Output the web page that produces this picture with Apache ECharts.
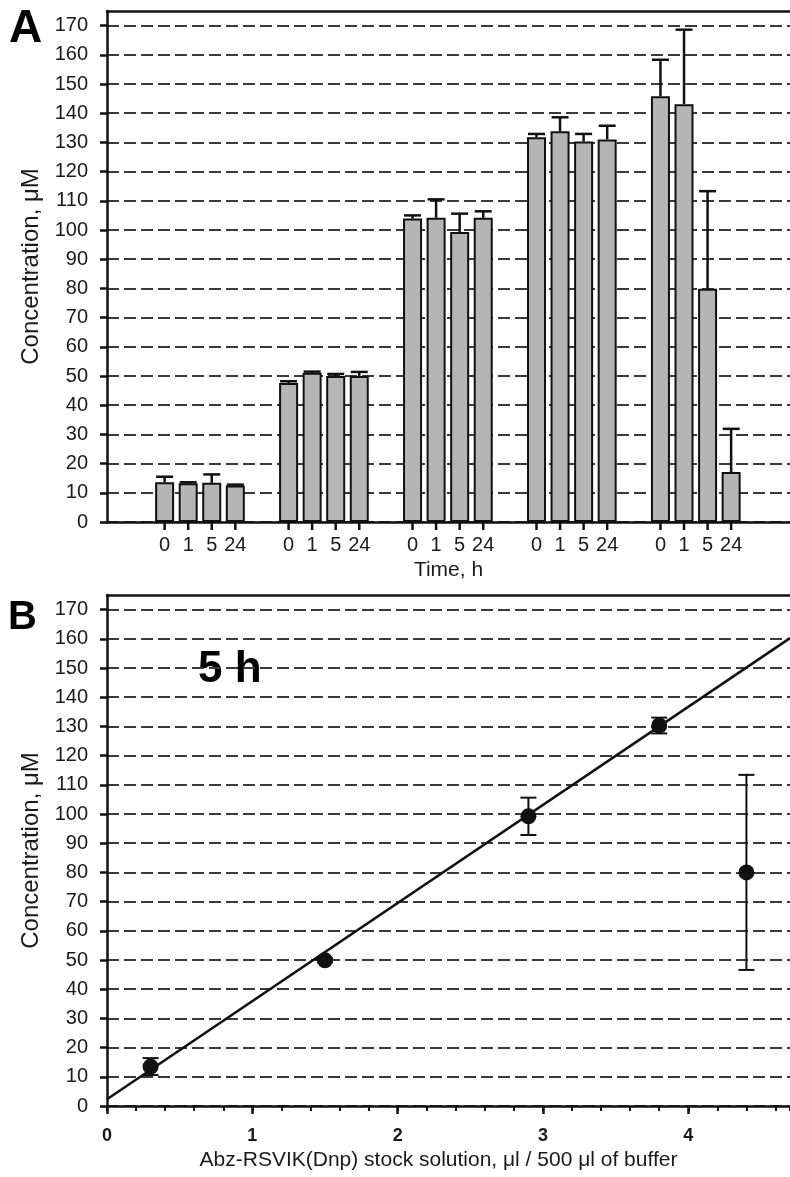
<!DOCTYPE html>
<html>
<head>
<meta charset="utf-8">
<script src="https://cdn.jsdelivr.net/npm/echarts@6/dist/echarts.min.js"></script>
<style>
html, body { margin: 0; padding: 0; background: #fff; }
#chart { width: 790px; height: 1177px; }
</style>
</head>
<body>
<div id="chart"></div>
<script>
// --- panel A: concentration after 0/1/5/24 h, five stock volumes ---
const groups = [1, 2, 3, 4, 5]
const times = ['0', '1', '5', '24']
const mean0h = [13.6, 47.6, 103.9, 131.8, 145.8]
const mean1h = [13.3, 51.1, 104.2, 133.8, 143.1]
const mean5h = [13.4, 50.0, 99.3, 130.3, 79.9]
const mean24h = [12.5, 50.0, 104.2, 131.0, 17.1]
const err0h = [1.9, 0.6, 1.1, 1.1, 12.5]
const err1h = [0.3, 0.4, 6.3, 4.8, 25.5]
const err5h = [2.9, 0.7, 6.3, 2.6, 33.4]
const err24h = [0.3, 1.4, 2.2, 4.7, 14.8]

// --- panel B: 5 h values against stock volume ---
const stockVol = [0.3, 1.5, 2.9, 3.8, 4.4]
const conc5h = [13.5, 49.9, 99.2, 130.3, 80.0]
const conc5hErr = [2.9, 0.7, 6.4, 2.7, 33.4]
const fitIntercept = 2.3
const fitSlope = 33.6

const yTicks = [0, 10, 20, 30, 40, 50, 60, 70, 80, 90, 100, 110, 120, 130, 140, 150, 160, 170]
const xTicksB = [0, 1, 2, 3, 4]

const font = 'Liberation Sans, Arial, sans-serif'
const ink = '#111'
const barW = 19
const barGap = 0.24
const slot = barW * (1 + barGap)  // px between bar centres in a cluster
const dash = { color: '#3a3a3a', width: 1.8, type: [12, 5] }

const means = [mean0h, mean1h, mean5h, mean24h]
const errs = [err0h, err1h, err5h, err24h]

function yAxisFor(gridIndex) {
  return {
    type: 'value', gridIndex: gridIndex, min: 0, max: 175, interval: 10,
    name: 'Concentration, μM', nameLocation: 'middle', nameGap: 62,
    nameTextStyle: { fontFamily: font, fontSize: 24, color: '#1a1a1a' },
    axisLine: { show: true, onZero: false, lineStyle: { color: ink, width: 2.5 } },
    axisTick: { show: true, length: 7, customValues: yTicks, lineStyle: { color: ink, width: 2.5 } },
    axisLabel: {
      margin: 19, fontFamily: font, fontSize: 20, color: '#1a1a1a', customValues: yTicks,
      formatter: v => (v % 10 === 0 ? String(v) : '')
    },
    splitLine: { show: true, lineStyle: dash }
  }
}

function frameTop(gridIndex, min, max) {
  return {
    type: 'value', gridIndex: gridIndex, position: 'top', min: min, max: max,
    axisLine: { show: true, onZero: false, lineStyle: { color: ink, width: 2.5 } },
    axisTick: { show: false }, axisLabel: { show: false }, splitLine: { show: false }
  }
}

// error bar (upper only), tick and time label for each bar of panel A
function renderBarErr(params, api) {
  const g = api.value(0), k = api.value(1), m = api.value(2), e = api.value(3)
  const base = api.coord([g, 0])
  const x = base[0] + (k - 1.5) * slot
  const yTop = api.coord([g, m])[1]
  const yErr = api.coord([g, m + e])[1]
  const ls = { stroke: ink, lineWidth: 2.5 }
  return {
    type: 'group',
    children: [
      { type: 'line', shape: { x1: x, y1: yTop, x2: x, y2: yErr }, style: ls },
      { type: 'line', shape: { x1: x - 8.5, y1: yErr, x2: x + 8.5, y2: yErr }, style: ls },
      { type: 'line', shape: { x1: x, y1: base[1], x2: x, y2: base[1] + 8 }, style: ls },
      {
        type: 'text',
        style: { text: times[k], x: x, y: base[1] + 13, align: 'center', verticalAlign: 'top',
          font: '20px ' + font, fill: '#1a1a1a' }
      }
    ]
  }
}

function renderErrB(params, api) {
  const x = api.value(0), y = api.value(1), e = api.value(2)
  const hi = api.coord([x, y + e])
  const lo = api.coord([x, y - e])
  const ls = { stroke: ink, lineWidth: 2 }
  return {
    type: 'group',
    children: [
      { type: 'line', shape: { x1: hi[0], y1: hi[1], x2: lo[0], y2: lo[1] }, style: ls },
      { type: 'line', shape: { x1: hi[0] - 8, y1: hi[1], x2: hi[0] + 8, y2: hi[1] }, style: ls },
      { type: 'line', shape: { x1: lo[0] - 8, y1: lo[1], x2: lo[0] + 8, y2: lo[1] }, style: ls }
    ]
  }
}

const barSeries = times.map((t, k) => ({
  name: t, type: 'bar', xAxisIndex: 0, yAxisIndex: 0,
  barWidth: barW, barGap: (barGap * 100) + '%',
  itemStyle: { color: '#b5b5b5', borderColor: ink, borderWidth: 2 },
  data: groups.map((g, i) => [g, means[k][i]])
}))

const errRowsA = []
times.forEach((t, k) => {
  groups.forEach((g, i) => errRowsA.push([g, k, means[k][i], errs[k][i]]))
})

const xMaxB = 4.7
const fitLine = [[0, fitIntercept], [xMaxB, fitIntercept + fitSlope * xMaxB]]

const chart = echarts.init(document.getElementById('chart'), null, { renderer: 'canvas' })
chart.setOption({
  animation: false,
  backgroundColor: '#fff',
  textStyle: { fontFamily: font },
  grid: [
    { left: 107, top: 11, width: 690, height: 511 },
    { left: 107, top: 595, width: 690, height: 511 }
  ],
  xAxis: [
    {
      type: 'value', gridIndex: 0, position: 'bottom', min: 0.25, max: 5.76,
      name: 'Time, h', nameLocation: 'middle', nameGap: 38,
      nameTextStyle: { fontFamily: font, fontSize: 21, color: '#1a1a1a' },
      axisLine: { show: true, onZero: false, lineStyle: { color: ink, width: 2.5 } },
      axisTick: { show: false }, axisLabel: { show: false }, splitLine: { show: false }
    },
    frameTop(0, 0.25, 5.76),
    {
      type: 'value', gridIndex: 1, position: 'bottom', min: 0, max: xMaxB, interval: 1,
      name: 'Abz-RSVIK(Dnp) stock solution, μl / 500 μl of buffer',
      nameLocation: 'middle', nameGap: 44,
      nameTextStyle: { fontFamily: font, fontSize: 21, color: '#1a1a1a', padding: [0, 20, 0, 0] },
      axisLine: { show: true, onZero: false, lineStyle: { color: ink, width: 2.5 } },
      axisTick: { show: true, length: 8, customValues: xTicksB, lineStyle: { color: ink, width: 2.5 } },
      axisLabel: {
        margin: 21, fontFamily: font, fontSize: 18, fontWeight: 'bold', color: '#1a1a1a',
        customValues: xTicksB, formatter: v => (Number.isInteger(v) ? String(v) : '')
      },
      splitLine: { show: false }
    },
    {
      type: 'value', gridIndex: 1, position: 'bottom', min: 0, max: xMaxB, interval: 0.2,
      axisLine: { show: false, onZero: false },
      axisTick: { show: true, length: 5, lineStyle: { color: ink, width: 2 } },
      axisLabel: { show: false }, splitLine: { show: false }
    },
    frameTop(1, 0, xMaxB)
  ],
  yAxis: [yAxisFor(0), yAxisFor(1)],
  graphic: [
    { type: 'text', left: 9, top: 6, style: { text: 'A', font: 'bold 46px ' + font, fill: '#000' } },
    { type: 'text', left: 8, top: 598, style: { text: 'B', font: 'bold 40px ' + font, fill: '#000' } },
    { type: 'text', left: 198, top: 648, style: { text: '5 h', font: 'bold 44px ' + font, fill: '#000' } }
  ],
  series: barSeries.concat([
    {
      type: 'custom', xAxisIndex: 0, yAxisIndex: 0, clip: false, z: 5,
      renderItem: renderBarErr, encode: { x: 0, y: 2 }, data: errRowsA
    },
    {
      type: 'line', xAxisIndex: 2, yAxisIndex: 1, data: fitLine, symbol: 'none',
      lineStyle: { color: ink, width: 2.5 }, z: 3
    },
    {
      type: 'custom', xAxisIndex: 2, yAxisIndex: 1, z: 4,
      renderItem: renderErrB, encode: { x: 0, y: 1 },
      data: stockVol.map((v, i) => [v, conc5h[i], conc5hErr[i]])
    },
    {
      type: 'scatter', xAxisIndex: 2, yAxisIndex: 1, z: 6,
      symbol: 'circle', symbolSize: 16, itemStyle: { color: ink, opacity: 1 },
      data: stockVol.map((v, i) => [v, conc5h[i]])
    }
  ])
})
</script>
</body>
</html>
